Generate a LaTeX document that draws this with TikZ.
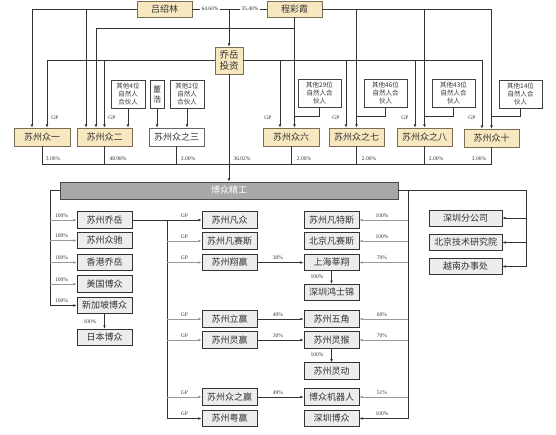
\documentclass[tikz,border=0pt]{standalone}
\usepackage{fontspec}
\setmainfont{Liberation Serif}
\newfontfamily\cjk{Noto Sans CJK SC}
\usetikzlibrary{arrows.meta}
\definecolor{tanc}{HTML}{F8E8C0}
\definecolor{tanb}{HTML}{7A6E55}
\definecolor{bzgray}{HTML}{A8A8A8}
\begin{document}
\begin{tikzpicture}[x=1pt,y=-1pt,
  ln/.style={draw=black!80, line width=0.7pt},
  arr/.style={ln, -{Latex[length=3.2pt,width=2.8pt]}},
  gln/.style={draw=black!40, line width=0.6pt},
  garr/.style={gln, -{Latex[length=3.2pt,width=2.8pt]}},
  box/.style={draw, inner sep=0pt, font=\cjk\fontsize{9}{10}\selectfont, text=black!80},
  tbox/.style={box, draw=tanb, fill=tanc, line width=0.7pt, minimum width=55pt, minimum height=17pt},
  wbox/.style={box, draw=black!60, fill=white, line width=0.7pt, minimum width=55pt, minimum height=17pt},
  gbox/.style={box, draw=black!80, fill=black!7, line width=1pt, minimum width=55pt, minimum height=16.5pt},
  obox/.style={draw=black!75, fill=white, line width=0.7pt, inner sep=0pt, align=center, text=black!80,
     font=\cjk\fontsize{6.5}{8}\selectfont, minimum height=28pt},
  pl/.style={font=\fontsize{5.5}{6.5}\selectfont, inner sep=0.6pt, text=black!80},
  pw/.style={pl, fill=white, inner sep=1.5pt}
]
\useasboundingbox (0,0) rectangle (556,434);

% ---------- top owners ----------
\node[tbox, minimum height=16pt] (lv) at (164.5,9) {吕绍林};
\node[tbox, minimum height=16pt] (cheng) at (294.5,9) {程彩霞};
\node[tbox, minimum width=28pt, minimum height=27pt, align=center, font=\cjk\fontsize{9.5}{11}\selectfont] (qy) at (229,60.5) {乔岳\\投资};

% ---------- others ----------
\node[obox, minimum width=34pt] (o4) at (128,94.5) {其他4位\\自然人\\合伙人};
\node[obox, minimum width=14pt, font=\cjk\fontsize{8}{9.5}\selectfont] (dh) at (157,94.5) {董\\浩};
\node[obox, minimum width=34pt] (o2) at (187,94.5) {其他2位\\自然人\\合伙人};
\node[obox, minimum width=43pt] (o29) at (319.5,93.5) {其他29位\\自然人合\\伙人};
\node[obox, minimum width=43pt] (o46) at (385.5,93.5) {其他46位\\自然人合\\伙人};
\node[obox, minimum width=43pt] (o43) at (453.5,93.5) {其他43位\\自然人合\\伙人};
\node[obox, minimum width=43pt] (o14) at (520.5,94) {其他14位\\自然人合\\伙人};

% ---------- partnership row ----------
\node[tbox, minimum width=56pt, minimum height=18pt] (z1) at (42,137) {苏州众一};
\node[tbox, minimum height=18pt] (z2) at (104.5,137) {苏州众二};
\node[wbox, minimum height=18pt] (z3) at (176.5,137) {苏州众之三};
\node[tbox, minimum width=56pt, minimum height=18pt] (z6) at (291,137) {苏州众六};
\node[tbox, minimum height=18pt] (z7) at (356.5,137) {苏州众之七};
\node[tbox, minimum height=18pt] (z8) at (424.5,137) {苏州众之八};
\node[tbox, minimum height=18pt] (z10) at (491.5,138) {苏州众十};

% ---------- main company ----------
\node[box, draw=black!70, fill=bzgray, line width=0.8pt, minimum width=338pt, minimum height=17pt, text=white] (bz) at (229,190.5) {博众精工};

% ---------- left column ----------
\node[gbox] (sqy) at (104.5,220) {苏州乔岳};
\node[gbox] (szc) at (104.5,240.5) {苏州众驰};
\node[gbox] (hkqy) at (104.5,262.5) {香港乔岳};
\node[gbox] (usbz) at (104.5,284) {美国博众};
\node[gbox] (sgbz) at (104.5,305.5) {新加坡博众};
\node[gbox] (jpbz) at (104.5,337.5) {日本博众};

% ---------- GP column ----------
\node[gbox] (fz) at (229.5,220) {苏州凡众};
\node[gbox] (fss) at (229.5,241) {苏州凡赛斯};
\node[gbox] (xy) at (229.5,262.5) {苏州翔赢};
\node[gbox] (ly) at (229.5,319) {苏州立赢};
\node[gbox] (lying) at (229.5,340) {苏州灵赢};
\node[gbox] (zzy) at (229.5,397) {苏州众之赢};
\node[gbox] (yy) at (229.5,418.5) {苏州粤赢};

% ---------- middle column ----------
\node[gbox] (fts) at (331.5,220) {苏州凡特斯};
\node[gbox] (bjfss) at (331.5,241) {北京凡赛斯};
\node[gbox] (shxx) at (331.5,262.5) {上海莘翔};
\node[gbox] (hsj) at (331.5,292.5) {深圳鸿士锦};
\node[gbox] (wj) at (331.5,319) {苏州五角};
\node[gbox] (lh) at (331.5,340) {苏州灵猴};
\node[gbox] (ld) at (331.5,371) {苏州灵动};
\node[gbox] (jqr) at (331.5,397) {博众机器人};
\node[gbox] (szbz) at (331.5,418.5) {深圳博众};

% ---------- right column ----------
\node[gbox, minimum width=73pt, minimum height=16pt] (fgs) at (465.5,218) {深圳分公司};
\node[gbox, minimum width=73pt, minimum height=16pt] (yjy) at (465.5,242.5) {北京技术研究院};
\node[gbox, minimum width=73pt, minimum height=16pt] (yn) at (465.5,266.5) {越南办事处};

% ---------- helper coordinates ----------
\coordinate (z1a) at ([xshift=-10pt]z1.north);
\coordinate (z1g) at ([xshift=5pt]z1.north);
\coordinate (z2a) at ([xshift=-18.5pt]z2.north);
\coordinate (z2b) at ([xshift=-8.5pt]z2.north);
\coordinate (z2g) at (z2.north);
\coordinate (z6g) at ([xshift=-11pt]z6.north);
\coordinate (z7g) at ([xshift=-10.5pt]z7.north);
\coordinate (z8g) at ([xshift=-9.5pt]z8.north);
\coordinate (z10g) at ([xshift=-9.5pt]z10.north);
\coordinate (cy) at (0,28);
\coordinate (jy) at (0,116);
\coordinate (py) at (0,164);
\coordinate (lx) at (50,0);
\coordinate (gx) at (167,0);
\coordinate (rx) at (408,0);
\coordinate (ry) at (526,0);

% ---------- top connectors ----------
\draw[ln] (lv.east) -- (cheng.west);
\node[pw] at (210,9) {64.60\%};
\node[pw] at (250,9) {35.40\%};
\draw[arr] (qy.north |- lv.east) -- (qy.north);

\draw[arr] (lv.west) -| (z1a);
\draw[arr] (lv.west -| z2a) -- (z2a);

\draw[arr] (cheng.east) -| (z10.north);
\draw[arr] (cheng.east -| z7.north) -- (z7.north);
\draw[arr] (cheng.east -| z8.north) -- (z8.north);
\draw[arr] (cheng.south) -- (cheng.south |- z6.north);
\draw[arr] (cheng.south |- cy) -| (z2b);

\draw[arr] (qy.west) -| (z1g);
\draw[arr] (qy.west -| z2g) -- (z2g);
\draw[arr] (qy.east) -| (z10g);
\draw[arr] (qy.east -| z6g) -- (z6g);
\draw[arr] (qy.east -| z7g) -- (z7g);
\draw[arr] (qy.east -| z8g) -- (z8g);

\draw[arr] (o4.south) -- (o4.south |- z2.north);
\draw[arr] (dh.south) -- (dh.south |- z3.north);
\draw[arr] (o2.south) -- (o2.south |- z3.north);
\draw[ln] (o29.south) -- (o29.south |- jy) -- (cheng.south |- jy);
\draw[ln] (o46.south) -- (o46.south |- jy) -- (z7.north |- jy);
\draw[ln] (o43.south) -- (o43.south |- jy) -- (z8.north |- jy);
\draw[ln] (o14.south) -- (o14.south |- jy) -- (z10.north |- jy);

\foreach \x in {55,112,268,336,405,472} \node[pl] at (\x,118) {GP};

% ---------- shares into 博众精工 ----------
\draw[ln] (z1.south) -- (z1.south |- py) -- (z10.south |- py) -- (z10.south);
\foreach \n in {z2,z3,z6,z7,z8} \draw[ln] (\n.south) -- (\n.south |- py);
\draw[arr] (qy.south) -- (bz.north);
\node[pl] at (53,159) {3.00\%};
\node[pl] at (118,159) {48.98\%};
\node[pl] at (188,159) {3.00\%};
\node[pl] at (242,159) {36.02\%};
\node[pl] at (304,159) {2.00\%};
\node[pl] at (369,159) {2.00\%};
\node[pl] at (436,159) {2.00\%};
\node[pl] at (479,159) {3.00\%};

% ---------- left subsidiaries ----------
\draw[arr] (bz.west) -- (bz.west -| lx) |- (sgbz.west);
\foreach \n in {sqy,szc,hkqy,usbz} \draw[garr] (lx |- \n.west) -- (\n.west);
\foreach \n in {sqy,szc,hkqy,usbz,sgbz} \node[pl] at ([xshift=-15pt,yshift=4.5pt]\n.west) {100\%};
\draw[arr] (sgbz.south) -- (jpbz.north);
\node[pl] at (90,322) {100\%};

% ---------- GP branch ----------
\draw[arr] (sqy.east) -- (fz.west);
\draw[arr] (sqy.east -| gx) |- (yy.west);
\foreach \n in {fss,xy,ly,lying,zzy} \draw[garr] (gx |- \n.west) -- (\n.west);
\foreach \n in {fz,fss,xy,ly,lying,zzy,yy} \node[pl] at ([xshift=-17pt,yshift=4.5pt]\n.west) {GP};

\draw[arr] (xy.east) -- (shxx.west);
\draw[arr] (ly.east) -- (wj.west);
\draw[arr] (lying.east) -- (lh.west);
\draw[arr] (zzy.east) -- (jqr.west);
\node[pl] at (278,258) {30\%};
\node[pl] at (278,314.5) {40\%};
\node[pl] at (278,335.5) {30\%};
\node[pl] at (278,392.5) {49\%};

\draw[arr] (shxx.south) -- (hsj.north);
\node[pl] at (317,277) {100\%};
\draw[arr] (lh.south) -- (ld.north);
\node[pl] at (317,355) {100\%};

% ---------- right branch ----------
\draw[arr] (bz.east) -- (bz.east -| ry) |- (yn.east);
\draw[arr] (ry |- fgs.east) -- (fgs.east);
\draw[arr] (ry |- yjy.east) -- (yjy.east);
\draw[arr] (bz.east -| rx) |- (szbz.east);
\foreach \n in {fts,bjfss,shxx,wj,lh,jqr} \draw[garr] (rx |- \n.east) -- (\n.east);
\node[pl] at (382,215.5) {100\%};
\node[pl] at (382,236.5) {100\%};
\node[pl] at (382,258) {70\%};
\node[pl] at (382,314.5) {60\%};
\node[pl] at (382,335.5) {70\%};
\node[pl] at (382,392.5) {51\%};
\node[pl] at (382,414) {100\%};
\end{tikzpicture}
\end{document}
